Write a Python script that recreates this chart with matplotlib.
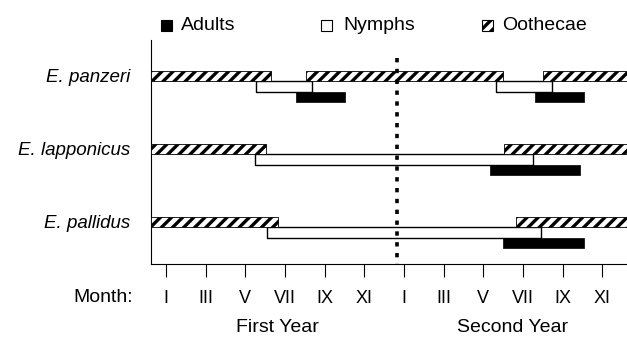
import matplotlib
matplotlib.use('Agg')
import matplotlib.pyplot as plt
from matplotlib.patches import Rectangle

plt.rcParams['font.family'] = ['Liberation Sans', 'DejaVu Sans']
plt.rcParams['hatch.linewidth'] = 2.4

# Data (months; first year = 1..12, second year = 13..24)
species = ['E. panzeri', 'E. lapponicus', 'E. pallidus']
oothecae = [
    [(0.25, 6.3), (8.05, 18.0), (20.0, 24.25)],
    [(0.25, 6.05), (18.05, 24.25)],
    [(0.25, 6.65), (18.65, 24.25)],
]
nymphs = [
    [(5.55, 8.35), (17.65, 20.45)],
    [(5.5, 19.5)],
    [(6.1, 19.9)],
]
adults = [
    [(7.55, 10.05), (19.6, 22.1)],
    [(17.35, 21.9)],
    [(18.0, 22.1)],
]
month_ticks = list(range(1, 25, 2))
month_labels = ['I', 'III', 'V', 'VII', 'IX', 'XI'] * 2
year_split = 12.65

W, H = 627, 338
fig = plt.figure(figsize=(W / 100, H / 100), dpi=100)
ax = fig.add_axes([151 / W, 1 - 264 / H, 1 - 151 / W, (264 - 40) / H])

ooth_h = 0.137
nym_h = 0.15
adu_h = 0.137

for i in range(len(species)):
    y0 = i - ooth_h / 2
    segs = [(a, b - a) for a, b in oothecae[i]]
    ax.broken_barh(segs, (y0, ooth_h), facecolor='white', edgecolor='black',
                   hatch='///', linewidth=0.6, zorder=3)
    segs = [(a, b - a) for a, b in nymphs[i]]
    ax.broken_barh(segs, (i + ooth_h / 2, nym_h), facecolor='white',
                   edgecolor='black', linewidth=1.0, zorder=2)
    segs = [(a, b - a) for a, b in adults[i]]
    ax.broken_barh(segs, (i + ooth_h / 2 + nym_h, adu_h), facecolor='black',
                   edgecolor='black', linewidth=0.5, zorder=2)

ax.vlines(year_split, -0.25, 2.575, colors='black', linestyles=(0, (1.2, 1.8)),
          linewidth=2.6, zorder=4)

ax.set_xlim(0.25, 24.25)
ax.set_ylim(2.575, -0.49)
ax.spines['top'].set_visible(False)
ax.spines['right'].set_visible(False)
ax.spines['left'].set_linewidth(0.8)
ax.spines['bottom'].set_linewidth(0.8)

ax.set_xticks(month_ticks)
ax.set_xticklabels(month_labels, fontsize=13)
ax.tick_params(axis='x', direction='out', length=9, width=0.8, pad=10)
ax.set_yticks(range(len(species)))
ax.set_yticklabels(species, fontsize=13.5, style='italic')
ax.tick_params(axis='y', length=0, pad=15)

fig.text(73 / W, 1 - 297 / H, 'Month:', fontsize=14, va='center', ha='left')
fig.text(277 / W, 1 - 327 / H, 'First Year', fontsize=14, va='center', ha='center')
fig.text(513 / W, 1 - 327 / H, 'Second Year', fontsize=14, va='center', ha='center')

# legend
legend_items = [('Adults', 161, 181, dict(facecolor='black')),
                ('Nymphs', 321, 343, dict(facecolor='white')),
                ('Oothecae', 482, 502, dict(facecolor='white', hatch='///'))]
for label, sx, tx, style in legend_items:
    fig.add_artist(Rectangle((sx / W, 1 - 30.5 / H), 11 / W, 11 / H,
                             transform=fig.transFigure, edgecolor='black',
                             linewidth=0.8, **style))
    fig.text(tx / W, 1 - 25 / H, label, fontsize=14, va='center', ha='left')

fig.savefig('out.png', dpi=100)
